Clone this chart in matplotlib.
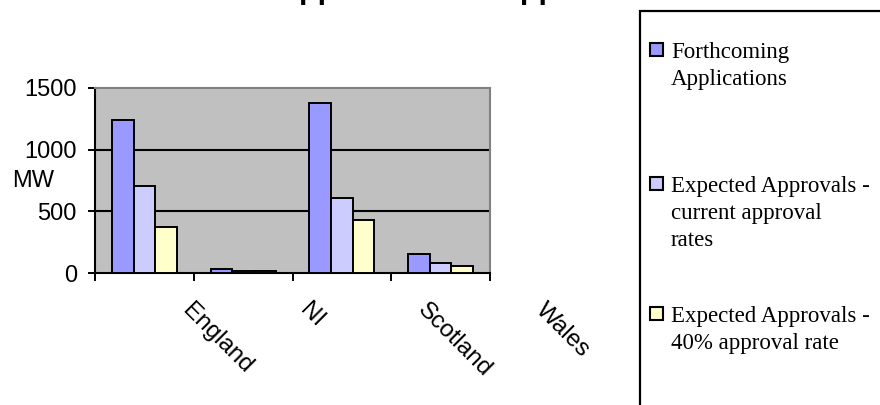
import numpy as np
import matplotlib
matplotlib.use("Agg")
import matplotlib.pyplot as plt
from matplotlib.patches import Rectangle

# ---- data -------------------------------------------------------------
regions = ["England", "NI", "Scotland", "Wales"]
forthcoming = [1240, 35, 1380, 155]
approvals_current = [705, 16, 610, 78]
approvals_40pct = [373, 16, 430, 57]

series_names = [
    ["Forthcoming", "Applications"],
    ["Expected Approvals -", "current approval", "rates"],
    ["Expected Approvals -", "40% approval rate"],
]
series_colors = ["#9999FF", "#CCCCFF", "#FFFFCC"]
y_ticks = [0, 500, 1000, 1500]
title_text = "Applications & Approvals"

# ---- figure -----------------------------------------------------------
W, H = 880, 405
fig = plt.figure(figsize=(W / 100, H / 100), dpi=100)
fig.patch.set_facecolor("white")


def fx(px):
    return px / W


def fy(py):
    return 1 - py / H


SANS = "Liberation Sans"
SERIF = "Liberation Serif"
LABEL_SIZE = 17

# plot area in pixel terms: left 95, right 490, top 88, bottom 273
ax = fig.add_axes([fx(95), fy(273), (490 - 95) / W, (273 - 88) / H])
ax.set_facecolor("#C0C0C0")

x = np.arange(len(regions))
bw = 0.22
for i, (vals, col) in enumerate(zip([forthcoming, approvals_current, approvals_40pct],
                                    series_colors)):
    ax.bar(x + (i - 1) * bw, vals, width=bw, color=col, edgecolor="black",
           linewidth=1.4, zorder=3)

ax.set_xlim(-0.5, len(regions) - 0.5)
ax.set_ylim(0, 1500)
ax.set_yticks(y_ticks)
ax.set_yticklabels([str(v) for v in y_ticks], fontfamily=SANS,
                   fontsize=LABEL_SIZE)
for v in y_ticks[1:-1]:
    ax.axhline(v, color="black", linewidth=1.5, zorder=1)

# category boundary tick marks on the x axis
ax.set_xticks(np.arange(len(regions) + 1) - 0.5)
ax.set_xticklabels([])
ax.tick_params(axis="x", direction="out", length=6, width=1.4, color="black")
ax.tick_params(axis="y", direction="out", length=5, width=1.4, color="black",
               pad=8)

for side in ("left", "bottom"):
    ax.spines[side].set_color("black")
    ax.spines[side].set_linewidth(1.5)
for side in ("top", "right"):
    ax.spines[side].set_color("#808080")
    ax.spines[side].set_linewidth(1.5)

# rotated category labels
for i, name in enumerate(regions):
    fig.text(fx(194 + 117.5 * i), fy(299), name, rotation=-45,
             rotation_mode="anchor", ha="left", va="top",
             fontfamily=SANS, fontsize=LABEL_SIZE + 0.5)

# axis label
fig.text(fx(33), fy(181), "MW", ha="center", va="center",
         fontfamily=SANS, fontsize=LABEL_SIZE)

# title (mostly above the visible area)
fig.text(fx(462), fy(-2), title_text, ha="center", va="baseline",
         fontfamily=SANS, fontweight="bold", fontsize=22)

# legend box drawn by hand
fig.patches.append(Rectangle((fx(640), fy(460)), fx(300), (460 - 11) / H,
                             transform=fig.transFigure, facecolor="white",
                             edgecolor="black", linewidth=1.6, zorder=1))
baselines = [58, 192, 322]
line_step = 27
for lines, col, yb in zip(series_names, series_colors, baselines):
    fig.patches.append(Rectangle((fx(650), fy(yb - 2)), fx(13), 13 / H,
                                 transform=fig.transFigure, facecolor=col,
                                 edgecolor="black", linewidth=1.5, zorder=2))
    for k, line in enumerate(lines):
        fig.text(fx(671), fy(yb + k * line_step), line, ha="left",
                 va="baseline", fontfamily=SERIF, fontsize=16.5, zorder=3)

fig.savefig("out.png", dpi=100)
